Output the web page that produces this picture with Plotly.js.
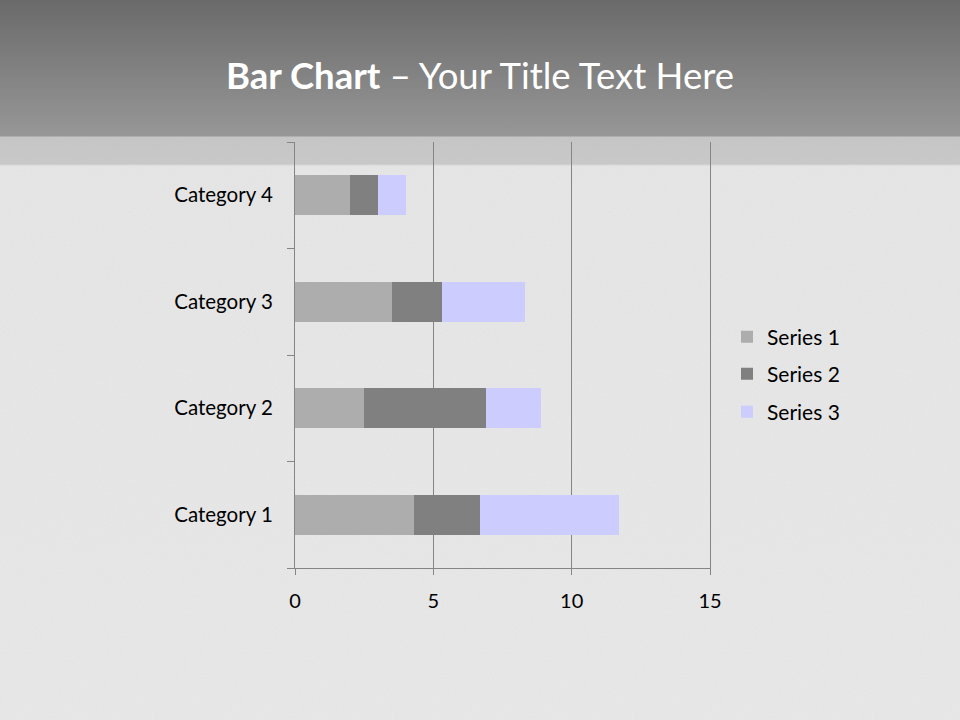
<!DOCTYPE html>
<html>
<head>
<meta charset="utf-8">
<script src="https://cdn.plot.ly/plotly-3.0.1.min.js"></script>
<style>
html, body { margin:0; padding:0; width:960px; height:720px; overflow:hidden; }
body {
  background:
    linear-gradient(to bottom, #6a6a6a 0px, #979797 136px, #c6c6c6 137px, #c9c9c9 164px, #e7e7e7 166px, #e9e9e9 720px);
  position: relative;
}
#noise {
  position:absolute; left:0; top:137px; width:960px; height:583px;
  background-image: url("data:image/svg+xml;utf8,<svg xmlns='http://www.w3.org/2000/svg' width='240' height='240'><filter id='n'><feTurbulence type='fractalNoise' baseFrequency='0.9 0.6' numOctaves='2' stitchTiles='stitch'/><feColorMatrix values='0 0 0 0 0.5  0 0 0 0 0.5  0 0 0 0 0.5  0 0 0 0.35 0'/></filter><rect width='240' height='240' filter='url(%23n)'/></svg>");
  opacity: 0.35;
}
#chart { position:absolute; left:0; top:0; width:960px; height:720px; }
</style>
</head>
<body>
<div id="noise"></div>
<div id="chart"></div>
<script>
const categories = ["Category 1", "Category 2", "Category 3", "Category 4"];
const seriesNames = ["Series 1", "Series 2", "Series 3"];
const series1 = [4.3, 2.5, 3.5, 2.0];
const series2 = [2.4, 4.4, 1.8, 1.0];
const series3 = [5.0, 2.0, 3.0, 1.0];
const xTicks = [0, 5, 10, 15];

const colors = ["#adadad", "#808080", "#ccccff"];
const values = [series1, series2, series3];
const legendIds = ["legend", "legend2", "legend3"];

const traces = values.map((v, i) => ({
  type: "bar",
  orientation: "h",
  name: seriesNames[i],
  x: v,
  y: categories,
  legend: legendIds[i],
  marker: { color: colors[i], line: { width: 0 } },
  hoverinfo: "skip"
}));

const font = "Lato, 'Open Sans', 'Noto Sans', sans-serif";

// plot area in px: x 295..710, y 142..568
const plotL = 295, plotR = 710, plotT = 142, plotB = 568;
const legendYpx = [337, 374, 412];
const legendXpx = 727;

const layout = {
  width: 960,
  height: 720,
  paper_bgcolor: "rgba(0,0,0,0)",
  plot_bgcolor: "rgba(0,0,0,0)",
  barmode: "stack",
  bargap: 0.62,
  margin: { l: plotL, r: 960 - plotR, t: plotT, b: 720 - plotB },
  font: { family: font, color: "#000000", size: 21 },
  title: {
    text: "<b>Bar Chart</b> – Your Title Text Here",
    font: { family: font, size: 36.5, color: "#ffffff" },
    xref: "container", yref: "container",
    x: 0.5, xanchor: "center",
    y: 1 - 76 / 720, yanchor: "middle"
  },
  xaxis: {
    range: [0, 15],
    tickvals: xTicks,
    ticktext: xTicks.map(String),
    showgrid: true,
    gridcolor: "#858585",
    gridwidth: 1,
    zeroline: false,
    showline: true,
    linecolor: "#858585",
    linewidth: 1,
    ticks: "outside",
    ticklen: 6,
    tickcolor: "#858585",
    ticklabelstandoff: 9,
    tickfont: { family: font, size: 20, color: "#000000" },
    fixedrange: true
  },
  yaxis: {
    type: "category",
    categoryorder: "array",
    categoryarray: categories,
    range: [-0.5, 3.5],
    showgrid: false,
    zeroline: false,
    showline: true,
    mirror: true,
    linecolor: "#858585",
    linewidth: 1,
    ticks: "outside",
    tickson: "boundaries",
    ticklen: 7,
    tickcolor: "#858585",
    ticklabelstandoff: 17,
    tickfont: { family: font, size: 20.5, color: "#000000" },
    fixedrange: true
  },
  showlegend: true
};

legendIds.forEach((id, i) => {
  layout[id] = {
    x: (legendXpx - plotL) / (plotR - plotL),
    xanchor: "left",
    y: (plotB - legendYpx[i]) / (plotB - plotT),
    yanchor: "middle",
    bgcolor: "rgba(0,0,0,0)",
    font: { family: font, size: 21, color: "#000000" },
    itemwidth: 30
  };
});

Plotly.newPlot("chart", traces, layout, { displayModeBar: false, staticPlot: true });
</script>
</body>
</html>
